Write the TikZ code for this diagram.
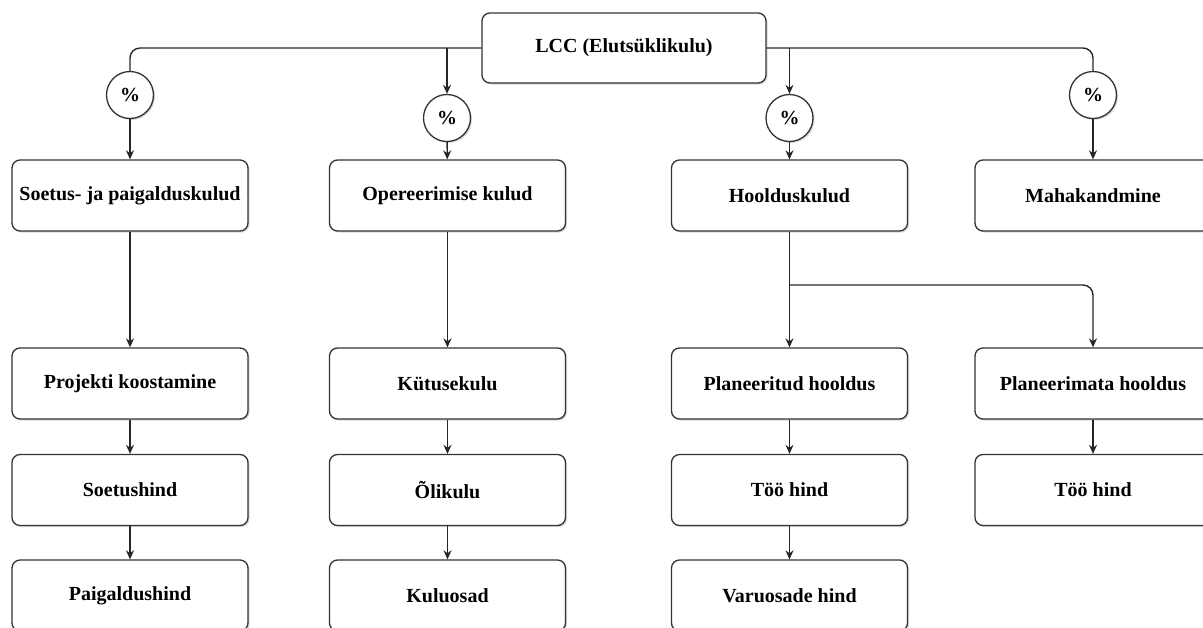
\documentclass[tikz,border=0pt]{standalone}
\usepackage{fontspec}
\setmainfont{Liberation Serif}
\usetikzlibrary{arrows.meta,shadows}

\begin{document}
\begin{tikzpicture}[x=1pt,y=-1pt,
    box/.style ={draw=black!80, line width=1.3pt, rounded corners=8pt, fill=white,
      minimum width=236pt, minimum height=71pt, inner sep=2pt,
      font=\fontsize{20}{24}\selectfont\bfseries,
      drop shadow={shadow xshift=1.5pt, shadow yshift=-1.5pt, fill=black!30}},
    pct/.style ={circle, draw=black!80, line width=1.3pt, fill=white, minimum size=47pt,
      inner sep=0pt, font=\fontsize{20}{24}\selectfont\bfseries,
      drop shadow={shadow xshift=1.5pt, shadow yshift=-1.5pt, fill=black!30}},
    link/.style ={draw=black!85, line width=1.4pt},
    >={Stealth[length=9pt,width=8pt]}]
    \useasboundingbox (0,0) rectangle (1203,627);

    \node[box, minimum width=284pt, minimum height=70pt] (lcc) at (624,48) {LCC (Elutsüklikulu)};

    \node[pct] (p1) at (130,95) {\%};
    \node[pct] (p2) at (447,118) {\%};
    \node[pct] (p3) at (789.5,118) {\%};
    \node[pct] (p4) at (1093,95) {\%};

    \node[box] (soetus) at (130,195.5) {Soetus- ja paigalduskulud};
    \node[box] (oper) at (447.5,195.5) {Opereerimise kulud};
    \node[box] (hooldus) at (789.5,195.5) {Hoolduskulud};
    \node[box] (maha) at (1093,195.5) {Mahakandmine};

    \node[box] (projekti) at (130,383.5) {Projekti koostamine};
    \node[box] (kytus) at (447.5,383.5) {Kütusekulu};
    \node[box] (plan) at (789.5,383.5) {Planeeritud hooldus};
    \node[box] (plmata) at (1093,383.5) {Planeerimata hooldus};

    \node[box] (soetushind) at (130,490) {Soetushind};
    \node[box] (oli) at (447.5,490) {Õlikulu};
    \node[box] (too1) at (789.5,490) {Töö hind};
    \node[box] (too2) at (1093,490) {Töö hind};

    \node[box] (paigaldus) at (130,595.5) {Paigaldushind};
    \node[box] (kuluosad) at (447.5,595.5) {Kuluosad};
    \node[box] (varuosad) at (789.5,595.5) {Varuosade hind};

    \coordinate (split) at (789.5,285);

    \draw[link, rounded corners=10pt] (lcc.west) -| (p1.north);
    \draw[link, rounded corners=10pt] (lcc.east) -| (p4.north);
    \draw[link,->] (p2 |- lcc) -- (p2);
    \draw[link,->] (p3 |- lcc) -- (p3);
    \draw[link,->] (p1) -- (soetus);
    \draw[link,->] (p2) -- (oper);
    \draw[link,->] (p3) -- (hooldus);
    \draw[link,->] (p4) -- (maha);

    \draw[link,->] (soetus) -- (projekti);
    \draw[link,->] (projekti) -- (soetushind);
    \draw[link,->] (soetushind) -- (paigaldus);
    \draw[link,->] (oper) -- (kytus);
    \draw[link,->] (kytus) -- (oli);
    \draw[link,->] (oli) -- (kuluosad);
    \draw[link,->] (hooldus) -- (plan);
    \draw[link,->, rounded corners=10pt] (split) -| (plmata);
    \draw[link,->] (plan) -- (too1);
    \draw[link,->] (too1) -- (varuosad);
    \draw[link,->] (plmata) -- (too2);
  \end{tikzpicture}
\end{document}
